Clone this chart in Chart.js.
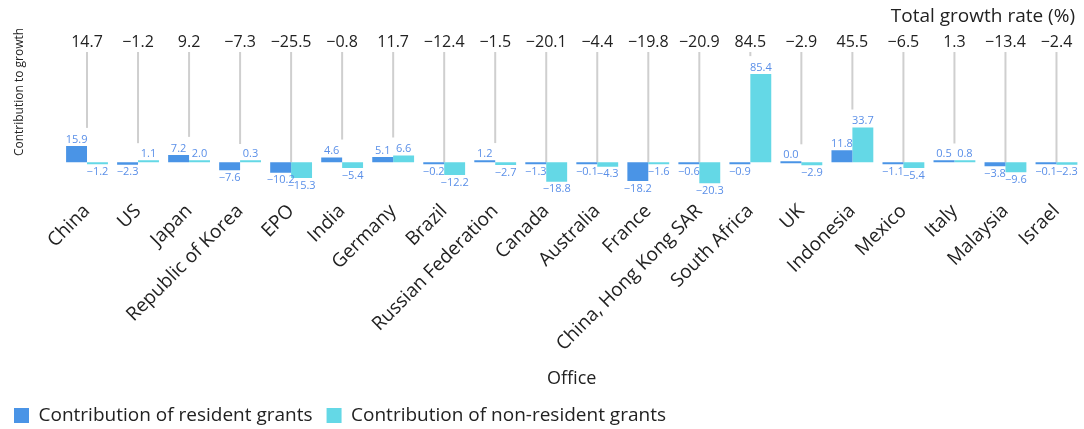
<!DOCTYPE html>
<html>
<head>
<meta charset="utf-8">
<script src="https://cdn.jsdelivr.net/npm/chart.js@4.4.1/dist/chart.umd.min.js"></script>
<style>
  html, body { margin: 0; padding: 0; background: #fff; }
  #wrap { width: 1084px; height: 429px; }
</style>
</head>
<body>
<div id="wrap"><canvas id="chart"></canvas></div>
<script>
// Offices and their contributions (percentage points)
const offices = ['China', 'US', 'Japan', 'Republic of Korea', 'EPO', 'India', 'Germany', 'Brazil',
  'Russian Federation', 'Canada', 'Australia', 'France', 'China, Hong Kong SAR', 'South Africa',
  'UK', 'Indonesia', 'Mexico', 'Italy', 'Malaysia', 'Israel'];
const residentGrants = [15.9, -2.3, 7.2, -7.6, -10.2, 4.6, 5.1, -0.2, 1.2, -1.3, -0.1, -18.2, -0.6, -0.9,
  0.0, 11.8, -1.1, 0.5, -3.8, -0.1];
const nonResidentGrants = [-1.2, 1.1, 2.0, 0.3, -15.3, -5.4, 6.6, -12.2, -2.7, -18.8, -4.3, -1.6, -20.3, 85.4,
  -2.9, 33.7, -5.4, 0.8, -9.6, -2.3];
const totalGrowth = [14.7, -1.2, 9.2, -7.3, -25.5, -0.8, 11.7, -12.4, -1.5, -20.1, -4.4, -19.8, -20.9, 84.5,
  -2.9, 45.5, -6.5, 1.3, -13.4, -2.4];

const FONT = '"Open Sans", "Noto Sans", sans-serif';
const fmt = v => (v < 0 ? '\u2212' + Math.abs(v).toFixed(1) : v.toFixed(1));

// Leader lines, totals, data labels and the side titles
const annotate = {
  id: 'annotate',
  beforeDatasetsDraw(chart) {
    const ctx = chart.ctx;
    const x = chart.scales.x, y = chart.scales.y;
    ctx.save();
    ctx.strokeStyle = '#cfcfcf';
    ctx.lineWidth = 2;
    offices.forEach((o, i) => {
      const top = Math.max(residentGrants[i], nonResidentGrants[i]);
      const cx = x.getPixelForValue(i);
      const end = top >= 0 ? y.getPixelForValue(top) - 18 : y.getPixelForValue(0);
      ctx.beginPath();
      ctx.moveTo(cx, 52);
      ctx.lineTo(cx, end);
      ctx.stroke();
    });
    ctx.restore();
  },
  afterDatasetsDraw(chart) {
    const ctx = chart.ctx;
    const x = chart.scales.x;
    ctx.save();
    // totals
    ctx.fillStyle = '#222';
    ctx.font = '16px ' + FONT;
    ctx.textAlign = 'center';
    ctx.textBaseline = 'middle';
    totalGrowth.forEach((t, i) => ctx.fillText(fmt(t), x.getPixelForValue(i), 42));
    ctx.font = '19px ' + FONT;
    ctx.textAlign = 'right';
    ctx.fillText('Total growth rate (%)', 1075, 17);
    // y title
    ctx.save();
    ctx.font = '12px ' + FONT;
    ctx.translate(20, 92);
    ctx.rotate(-Math.PI / 2);
    ctx.textAlign = 'center';
    ctx.fillText('Contribution to growth', 0, 0);
    ctx.restore();
    // bar labels
    ctx.font = '11px ' + FONT;
    ctx.fillStyle = '#5a8fe8';
    ctx.textAlign = 'center';
    chart.data.datasets.forEach((ds, d) => {
      chart.getDatasetMeta(d).data.forEach((bar, i) => {
        const v = ds.data[i];
        if (v >= 0) {
          ctx.textBaseline = 'bottom';
          ctx.fillText(fmt(v), bar.x, Math.min(bar.y, bar.base) - 1);
        } else {
          ctx.textBaseline = 'top';
          ctx.fillText(fmt(v), bar.x, Math.max(bar.y, bar.base) + 2);
        }
      });
    });
    ctx.restore();
  }
};

new Chart(document.getElementById('chart'), {
  type: 'bar',
  data: {
    labels: offices,
    datasets: [
      { label: 'Contribution of resident grants', data: residentGrants, backgroundColor: '#4a94e6', minBarLength: 2 },
      { label: 'Contribution of non-resident grants', data: nonResidentGrants, backgroundColor: '#64d8e6', minBarLength: 2 }
    ]
  },
  options: {
    responsive: true,
    maintainAspectRatio: false,
    animation: false,
    categoryPercentage: 0.82,
    barPercentage: 1.0,
    layout: { padding: { top: 73.5, right: 2, left: 0, bottom: -6 } },
    plugins: {
      legend: {
        position: 'bottom',
        align: 'start',
        labels: { boxWidth: 15, boxHeight: 15, padding: 14, color: '#222', font: { family: FONT, size: 19 } }
      },
      tooltip: { enabled: false }
    },
    scales: {
      x: {
        grid: { display: false },
        border: { display: false },
        ticks: { color: '#222', font: { family: FONT, size: 19 }, minRotation: 45, maxRotation: 45, padding: 8, autoSkip: false },
        title: { display: true, text: 'Office', color: '#222', font: { family: FONT, size: 18 }, padding: { top: 0, bottom: 2 } },
        afterFit(axis) { axis.height = 208; }
      },
      y: {
        min: -21,
        max: 86,
        grid: { display: false },
        border: { display: false },
        ticks: { display: false },
        afterFit(axis) { axis.width = 61.5; }
      }
    }
  },
  plugins: [annotate]
});
</script>
</body>
</html>
